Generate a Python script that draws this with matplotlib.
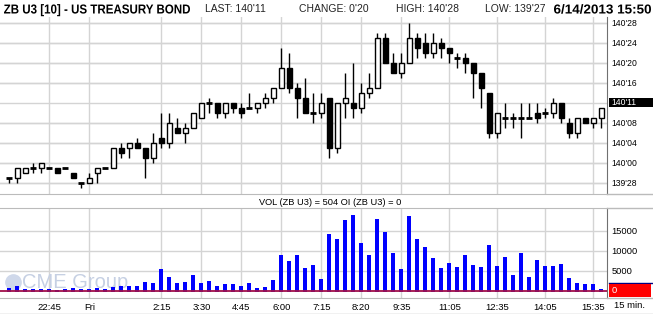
import numpy as np
import matplotlib
matplotlib.use("Agg")
import matplotlib.pyplot as plt
from matplotlib.lines import Line2D
from matplotlib.patches import Rectangle, PathPatch
from matplotlib.transforms import blended_transform_factory, Affine2D
from matplotlib.textpath import TextPath
from matplotlib.font_manager import FontProperties

plt.rcParams['font.family'] = ['Liberation Sans', 'DejaVu Sans']

# prices in 32nds above 140'00 (so -4 = 139'28), 15 min bars
opens = [-3, -3, -2, -1, -1, -1, -1, -1, -2, -4, -4, -2, -1, -1, 3, 3, 4, 3, 1, 5,
         4, 7, 6, 7, 9, 12, 12, 10, 12, 11, 11, 11, 12, 13, 15, 19, 15, 13, 10, 10,
         13, 3, 12, 12, 11, 14, 15, 25, 20, 18, 20, 25, 24, 22, 24, 23, 21, 21, 20, 18,
         14, 6, 9, 9, 9, 9, 10, 10, 10, 12, 8, 6, 9, 8, 9]
highs = [-3, -1, -1, 0, 0, -1, -1, -1, -2, -4, -2, -1, -1, 3, 4, 4, 5, 3, 6, 10,
         10, 9, 8, 10, 12, 13, 12, 12, 12, 12, 14, 12, 14, 15, 23, 22, 16, 17, 14, 14,
         13, 12, 18, 20, 16, 18, 26, 26, 22, 22, 28, 26, 26, 26, 25, 23, 22, 22, 20, 18,
         14, 10, 12, 10, 12, 12, 12, 11, 13, 12, 9, 9, 9, 9, 11]
lows = [-4, -4, -2, -2, -2, -1, -2, -1, -3, -5, -4, -4, -1, -1, 1, 1, 3, -3, 0, 3,
        3, 6, 4, 7, 9, 10, 9, 9, 10, 9, 11, 10, 11, 12, 15, 14, 9, 10, 8, 9,
        1, 2, 9, 9, 10, 13, 15, 20, 18, 17, 20, 21, 21, 21, 21, 20, 19, 18, 13, 11,
        5, 5, 7, 7, 5, 9, 8, 9, 9, 8, 5, 5, 8, 7, 7]
closes = [-3, -1, -1, -1, 0, -1, -2, -1, -3, -4, -3, -1, -1, 3, 2, 4, 3, 1, 4, 4,
          8, 6, 7, 10, 12, 12, 10, 12, 11, 10, 11, 12, 13, 15, 19, 15, 13, 10, 10, 12,
          3, 12, 13, 11, 14, 15, 25, 20, 18, 20, 25, 23, 22, 24, 23, 22, 21, 20, 18, 15,
          6, 10, 9, 9, 9, 9, 9, 10, 12, 9, 6, 9, 8, 9, 11]
volume = [667, 1250, 417, 417, 417, 417, 200, 500, 667, 417, 417, 667, 417, 1000, 1250,
          1250, 1170, 2170, 1920, 5500, 3500, 1920, 2170, 3920, 1920, 2420, 1250, 1670,
          1670, 1250, 1920, 667, 1000, 2670, 8920, 7420, 8920, 5670, 6420, 2920, 14170,
          12920, 17670, 18920, 11920, 8920, 17920, 14670, 9420, 5420, 18670, 12920, 10920,
          8170, 5670, 6920, 5920, 8920, 6420, 5920, 11420, 6170, 8420, 3920, 9420, 3420,
          7670, 6170, 6170, 6670, 3170, 1920, 1670, 1670, 504]

time_ticks = [5, 10, 19, 24, 29, 34, 39, 44, 49, 55, 61, 67, 73]
time_labels = ['22:45', 'Fri', '2:15', '3:30', '4:45', '6:00', '7:15', '8:20',
               '9:35', '11:05', '12:35', '14:05', '15:35']
price_ticks = [-4, 0, 4, 8, 16, 20, 24, 28]
vol_ticks = [5000, 10000, 15000]


def fmt32(t):
    whole = 140 + t // 32
    return "%d'%02d" % (whole, t % 32)


W, H = 653, 314
fig = plt.figure(figsize=(W / 100, H / 100), dpi=100)
fx = lambda px: px / W
fy = lambda py: 1 - py / H


def narrow_text(s, x0, x1, base, size=12.5):
    # bold text squeezed to fit between pixel x0 and x1, baseline at pixel row base
    tp = TextPath((0, 0), s, size=size, prop=FontProperties(family='Liberation Sans',
                                                            weight='bold'))
    ext = tp.get_extents()
    sx = (x1 - x0) / ext.width
    tr = Affine2D().translate(-ext.x0, 0).scale(sx, 1).translate(x0, H - base)
    fig.add_artist(PathPatch(tp, transform=tr, facecolor='black', edgecolor='none'))


grid_c = '#d4d4d4'
axis_c = '#707070'

# ---- price panel ----
ax = fig.add_axes([0, fy(194), fx(607), (194 - 17) / H])
ax.set_xlim(-1.16, 74.71)
ax.set_ylim(-6.26, 29.14)
for s in ['top', 'left']:
    ax.spines[s].set_visible(False)
ax.spines['bottom'].set_color('#bbbbbb')
ax.spines['right'].set_color(axis_c)
ax.yaxis.tick_right()
ax.set_yticks(price_ticks)
ax.set_yticklabels([fmt32(t) for t in price_ticks], fontsize=6.2)
ax.tick_params(axis='y', length=0, pad=3)
ax.set_xticks(time_ticks)
ax.set_xticklabels([])
ax.tick_params(axis='x', length=0)
ax.grid(True, color=grid_c, lw=1)
for t in range(-4, 29, 4):
    ax.axhline(t, color=grid_c, lw=1, zorder=0.5)
ax.set_axisbelow(True)

idx = np.arange(len(opens))
o = np.array(opens); c = np.array(closes)
ax.vlines(idx, lows, highs, color='black', lw=1, zorder=2)
up = c > o
dn = c < o
eq = c == o
ax.bar(idx[up], (c - o)[up], bottom=o[up], width=0.62, facecolor='white',
       edgecolor='black', lw=1, zorder=3)
ax.bar(idx[dn], (o - c)[dn], bottom=c[dn], width=0.62, facecolor='black',
       edgecolor='black', lw=1, zorder=3)
ax.hlines(o[eq], idx[eq] - 0.38, idx[eq] + 0.38, color='black', lw=2, zorder=3)

# last price box
bt = blended_transform_factory(ax.transAxes, ax.transData)
ax.add_patch(Rectangle((1.003, closes[-1] + 0.15), 0.073, 1.85, transform=bt,
                       facecolor='black', edgecolor='none', clip_on=False, zorder=5))
ax.text(1.007, closes[-1] + 1.05, fmt32(closes[-1]), transform=bt, color='white',
        fontsize=6.2, va='center', ha='left', zorder=6)

# ---- volume panel ----
ax2 = fig.add_axes([0, fy(297.7), fx(607), (297.7 - 207.7) / H])
ax2.set_xlim(-1.16, 74.71)
ax2.set_ylim(-1750, 20750)
ax2.spines['left'].set_visible(False)
for s in ['top', 'bottom']:
    ax2.spines[s].set_color('#bbbbbb')
ax2.spines['right'].set_color(axis_c)
ax2.yaxis.tick_right()
ax2.set_yticks(vol_ticks)
ax2.set_yticklabels([str(v) for v in vol_ticks], fontsize=6.7)
ax2.tick_params(axis='y', length=0, pad=3)
ax2.set_xticks(time_ticks)
ax2.set_xticklabels(time_labels, fontsize=6.8)
ax2.tick_params(axis='x', length=0, pad=4)
ax2.grid(True, color=grid_c, lw=1)
ax2.set_axisbelow(True)

ax2.text(fx(22), fy(282), 'CME Group', transform=fig.transFigure, fontsize=14.5,
         color='#c6d0e3', va='center', ha='left', zorder=1)
ax2.plot([fx(13)], [fy(282)], 'o', ms=11, color='#cfd8ea', transform=fig.transFigure,
         zorder=1, clip_on=False)

vol = np.array(volume)
ax2.bar(idx, vol + 300, bottom=-300, width=0.5, color='#0000ff', zorder=2)
ax2.axhline(0, color='#a0104a', lw=1.3, zorder=3)

bt2 = blended_transform_factory(ax2.transAxes, ax2.transData)
ax2.add_patch(Rectangle((1.003, -1500), 0.069, 3100, transform=bt2, facecolor='#ff0000',
                        edgecolor='none', clip_on=False, zorder=5))
ax2.add_line(Line2D([1.003, 1.074], [1850, 1850], transform=bt2, color='#000080',
                    lw=1, clip_on=False))
ax2.text(1.008, 0, '0', transform=bt2, color='white', fontsize=6.7, va='center', zorder=6)

# ---- header and frame ----
narrow_text('ZB U3 [10] - US TREASURY BOND', 4, 190, 13.5, size=13)
narrow_text('6/14/2013 15:50', 554, 651, 13.5, size=13)
hdr = [(205, 'LAST: 140\'11'), (299, 'CHANGE: 0\'20'), (396, 'HIGH: 140\'28'),
       (485, 'LOW: 139\'27')]
for px, s in hdr:
    fig.text(fx(px), fy(9.5), s, fontsize=7.5, va='center', color='#222222')
fig.text(fx(330), fy(202.5), 'VOL (ZB U3) = 504 OI (ZB U3) = 0', fontsize=6.7,
         ha='center', va='center')
fig.text(fx(614), fy(306), '15 min.', fontsize=6.8, va='center')

for py in [194, 207.7, 297.7]:
    fig.add_artist(Line2D([fx(607), 1], [fy(py), fy(py)], transform=fig.transFigure,
                          color='#bbbbbb', lw=1))
fig.add_artist(Line2D([0, 1], [fy(313.5), fy(313.5)], transform=fig.transFigure,
                      color='#bbbbbb', lw=1))

fig.savefig('out.png', dpi=100)
